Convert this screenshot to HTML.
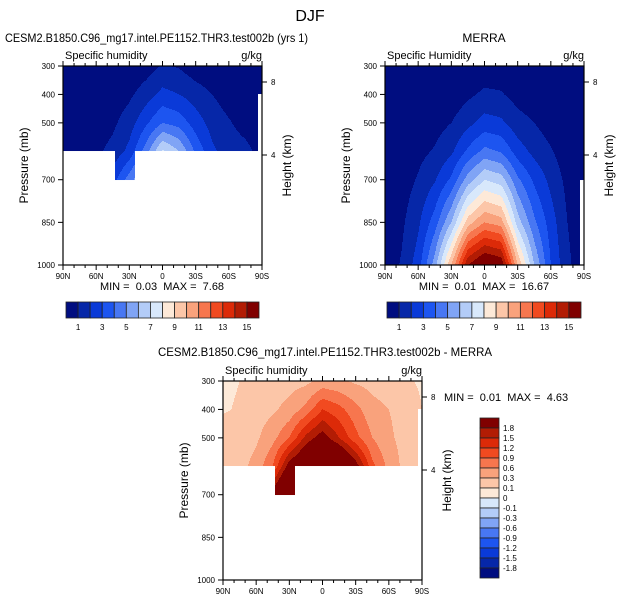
<!DOCTYPE html>
<html><head><meta charset="utf-8">
<style>
body{margin:0;background:#fff;}
svg{display:block;font-family:"Liberation Sans",Arial,sans-serif;}
text{white-space:pre;}
</style></head>
<body>
<svg id="fig" width="620" height="602" viewBox="0 0 620 602" xmlns="http://www.w3.org/2000/svg">
<rect width="620" height="602" fill="#fff"/>
<text x="310" y="21" font-size="16" text-anchor="middle">DJF</text>
<text x="5" y="42" font-size="12" textLength="303" lengthAdjust="spacingAndGlyphs">CESM2.B1850.C96_mg17.intel.PE1152.THR3.test002b (yrs 1)</text>
<text x="484" y="42" font-size="12" text-anchor="middle">MERRA</text>
<text x="158" y="356" font-size="12" textLength="334" lengthAdjust="spacingAndGlyphs">CESM2.B1850.C96_mg17.intel.PE1152.THR3.test002b - MERRA</text>
</svg>
<script>
const NS="http://www.w3.org/2000/svg";
const svg=document.getElementById('fig');
// ---- data ----
const lats=[90,75,60,45,30,15,0,-15,-30,-45,-60,-75,-90];
const latTicks=["90N","60N","30N","0","30S","60S","90S"];
const presTicks=[300,400,500,700,850,1000];
const heightTicks=["8","4"];
const absLevels=[1,2,3,4,5,6,7,8,9,10,11,12,13,14,15];
const absLabels=["1","3","5","7","9","11","13","15"];
const diffLevels=[-1.8,-1.5,-1.2,-0.9,-0.6,-0.3,-0.1,0,0.1,0.3,0.6,0.9,1.2,1.5,1.8];
const diffLabels=["1.8","1.5","1.2","0.9","0.6","0.3","0.1","0","-0.1","-0.3","-0.6","-0.9","-1.2","-1.5","-1.8"];
const colors=["#000d80","#0627a8","#0a3ad8","#1d55f0","#4877f3","#80a4f5","#b3ccf8","#d8e8fb","#fde9d8","#fcc6a8","#f9a27c","#f7764e","#f14a20","#dc2a08","#b21c04","#800000"];

const modelPres=[300,400,500,600,700];
const modelQ300=[0.02,0.03,0.05,0.1,0.2,0.5,1.1,0.9,0.4,0.2,0.1,0.05,0.03];
const modelQ400=[0.05,0.1,0.2,0.4,0.8,1.5,2.3,2.0,1.5,1.0,0.5,0.2,0.1];
const modelQ500=[0.1,0.2,0.4,0.8,1.5,2.8,4.0,3.6,2.5,1.6,1.1,0.6,0.2];
const modelQ600=[0.2,0.4,0.8,1.3,2.3,4.5,7.2,6.0,3.8,2.2,1.5,1.3,0.6];
const modelQ700=[0.3,0.6,1.2,2.5,4.5,6.5,7.6,6.0,4.0,2.5,1.5,1.0,0.6];
const modelMask=[[90,43,600],[43,25,700],[25,-86,600],[-86,-90,400]];

const merraPres=[300,400,500,600,700,850,1000];
const merraQ300=[0.01,0.02,0.03,0.05,0.1,0.2,0.35,0.35,0.15,0.1,0.05,0.02,0.01];
const merraQ400=[0.02,0.05,0.08,0.15,0.35,0.8,1.2,1.1,0.6,0.35,0.15,0.05,0.02];
const merraQ500=[0.05,0.12,0.25,0.6,1.0,1.7,2.4,2.2,1.4,1.0,0.5,0.15,0.05];
const merraQ600=[0.1,0.3,0.7,1.1,1.8,3.2,4.3,3.9,2.5,1.7,1.1,0.4,0.1];
const merraQ700=[0.2,0.5,1.1,1.9,3.2,5.5,7.0,6.5,4.2,2.8,1.7,0.7,0.2];
const merraQ850=[0.3,0.8,1.8,3.5,6.0,9.5,11.0,10.5,6.5,4.2,2.5,1.0,0.3];
const merraQ1000=[0.4,1.1,2.5,5.5,10.0,15.0,16.6,16.0,10.0,6.0,3.0,1.2,0.4];
const merraMask=[[90,-86,1000],[-86,-90,700]];

const diffPres=[300,400,500,600,700];
const diff300=[0.08,0.1,0.12,0.15,0.18,0.22,0.4,0.35,0.25,0.2,0.15,0.12,0.08];
const diff400=[0.09,0.11,0.16,0.25,0.4,0.7,1.2,1.0,0.7,0.4,0.3,0.2,0.1];
const diff500=[0.15,0.16,0.25,0.5,0.9,1.6,2.0,1.5,1.0,0.6,0.35,0.2,0.1];
const diff600=[0.15,0.2,0.4,0.9,2.0,2.5,3.0,2.8,2.0,1.0,0.5,0.2,0.1];
const diff700=[0.15,0.3,0.6,2.0,3.0,3.0,3.0,3.0,2.0,1.0,0.5,0.2,0.1];
const diffMask=[[90,43,600],[43,25,700],[25,-86,600],[-86,-90,400]];

function el(tag,attrs,parent){const e=document.createElementNS(NS,tag);for(const k in attrs)e.setAttribute(k,attrs[k]);(parent||svg).appendChild(e);return e;}
function colorIdx(v,levels){let i=0;while(i<levels.length&&v>=levels[i])i++;return i;}

function drawPanel(name,ox,oy,pres,rows,mask,levels,subtitle){
  const W=199,H=199;
  const g=el('g',{});
  
  
  const xOf=lat=>ox+(90-lat)/180*W;
  const yOf=p=>oy+(p-300)/700*H;
  function val(lat,p){
    const fx=(90-lat)/15;let i=Math.min(Math.floor(fx),lats.length-2);const tx=fx-i;
    let j=0;while(j<pres.length-2&&p>pres[j+1])j++;
    const ty=Math.max(0,Math.min(1,(p-pres[j])/(pres[j+1]-pres[j])));
    const a=rows[j][i]*(1-tx)+rows[j][i+1]*tx, b=rows[j+1][i]*(1-tx)+rows[j+1][i+1]*tx;
    return a*(1-ty)+b*ty;
  }
  function bottom(lat){for(const m of mask){if(lat<=m[0]&&lat>=m[1])return m[2];}return 1000;}
  for(let py=0;py<H;py++){
    const p=300+(py+0.5)/H*700;
    let runStart=0,runC=null;
    for(let px=0;px<=W;px++){
      let c=null;
      if(px<W){const lat=90-(px+0.5)/W*180;if(p<=bottom(lat))c=colors[colorIdx(val(lat,p),levels)];}
      if(c!==runC||px===W){
        if(runC){const r=el('rect',{x:ox+runStart,y:oy+py,width:px-runStart,height:1.02,fill:runC},g);
          
          }
        runC=c;runStart=px;
      }
    }
  }
  const f=el('rect',{x:ox,y:oy,width:W,height:H,fill:'none',stroke:'#000','stroke-width':1.2});
  
  
  for(let l=90;l>=-90;l-=10){
    const x=xOf(l),maj=(l%30===0);
    el('line',{x1:x,x2:x,y1:oy+H,y2:oy+H+(maj?5:3),stroke:'#000','stroke-width':1});
    el('line',{x1:x,x2:x,y1:oy,y2:oy-(maj?5:3),stroke:'#000','stroke-width':1});
  }
  latTicks.forEach((t,k)=>{const tx=el('text',{x:xOf(90-30*k),y:oy+H+14,'font-size':8,'text-anchor':'middle'});tx.textContent=t;
    
    });
  presTicks.forEach(p=>{const y=yOf(p);el('line',{x1:ox-5,x2:ox,y1:y,y2:y,stroke:'#000','stroke-width':1});
    const tx=el('text',{x:ox-8,y:y+3,'font-size':8,'text-anchor':'end'});tx.textContent=p;
    
    });
  [16,89].forEach((dy,k)=>{const y=oy+dy;el('line',{x1:ox+W,x2:ox+W+5,y1:y,y2:y,stroke:'#000','stroke-width':1});
    const tx=el('text',{x:ox+W+9,y:y+3,'font-size':8});tx.textContent=heightTicks[k];
    
    });
  const yl=el('text',{x:0,y:0,'font-size':12,'text-anchor':'middle',transform:`translate(${ox-35},${oy+H/2}) rotate(-90)`});yl.textContent='Pressure (mb)';
  
  
  const hl=el('text',{x:0,y:0,'font-size':12,'text-anchor':'middle',transform:`translate(${ox+W+29},${oy+H/2}) rotate(-90)`});hl.textContent='Height (km)';
  
  
  const st=el('text',{x:ox+2,y:oy-7,'font-size':11});st.textContent=subtitle;
  
  
  const un=el('text',{x:ox+W,y:oy-7,'font-size':11,'text-anchor':'end'});un.textContent='g/kg';
  
  
}
function hBar(name,x0,y0,w,h,labels){
  const bw=w/16;
  for(let k=0;k<16;k++){const r=el('rect',{x:x0+k*bw,y:y0,width:bw,height:h,fill:colors[k],stroke:'#222','stroke-width':0.8});
    
    }
  labels.forEach((t,k)=>{const tx=el('text',{x:x0+(1+2*k)*bw,y:y0+h+12,'font-size':8,'text-anchor':'middle'});tx.textContent=t;
    
    });
}
function minmax(name,x,y,txt,anchor){const t=el('text',{x:x,y:y,'font-size':11,'text-anchor':anchor});t.textContent=txt;
  
  }

drawPanel('model-panel',63,66,modelPres,[modelQ300,modelQ400,modelQ500,modelQ600,modelQ700],modelMask,absLevels,'Specific humidity');
drawPanel('merra-panel',385,66,merraPres,[merraQ300,merraQ400,merraQ500,merraQ600,merraQ700,merraQ850,merraQ1000],merraMask,absLevels,'Specific Humidity');
drawPanel('diff-panel',223,381,diffPres,[diff300,diff400,diff500,diff600,diff700],diffMask,diffLevels,'Specific humidity');
minmax('model-minmax',162,290,'MIN =  0.03  MAX =  7.68','middle');
minmax('merra-minmax',484,290,'MIN =  0.01  MAX =  16.67','middle');
minmax('diff-minmax',444,401,'MIN =  0.01  MAX =  4.63','start');
hBar('model-colorbar',66,302,193,16,absLabels);
hBar('merra-colorbar',387,302,194,16,absLabels);
for(let k=0;k<16;k++){const r=el('rect',{x:480,y:418+k*10,width:19,height:10,fill:colors[15-k],stroke:'#222','stroke-width':0.8});
  
  }
diffLabels.forEach((t,k)=>{const tx=el('text',{x:503,y:431+k*10,'font-size':8});tx.textContent=t;
  
  });
</script>
</body></html>
